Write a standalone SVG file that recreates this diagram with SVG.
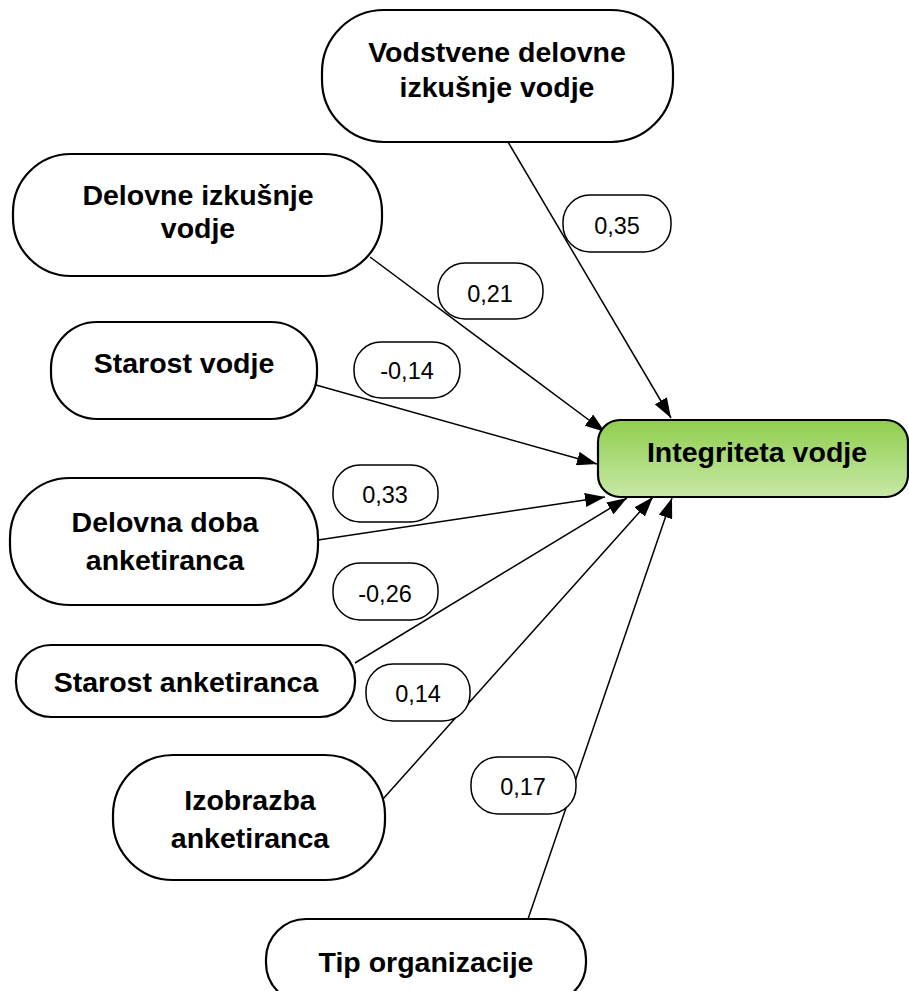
<svg xmlns="http://www.w3.org/2000/svg" width="909" height="991" viewBox="0 0 909 991">
  <style>
    .node { fill: #ffffff; stroke: #000000; stroke-width: 2.2; }
    .target { fill: url(#greenFill); stroke: #000000; stroke-width: 2.2; }
    .coef { fill: #ffffff; stroke: #000000; stroke-width: 1.5; }
    .edge { stroke: #000000; stroke-width: 1.5; fill: none; marker-end: url(#arrow); }
    .title { font-family: "Liberation Sans", Arial, sans-serif; font-weight: bold; font-size: 28.5px; fill: #000000; text-anchor: middle; }
    .num { font-family: "Liberation Sans", Arial, sans-serif; font-size: 23.5px; fill: #000000; text-anchor: middle; }
  </style>
  <defs>
    <linearGradient id="greenFill" x1="0" y1="0" x2="0" y2="1">
      <stop offset="0" stop-color="#8fce4c"/>
      <stop offset="1" stop-color="#c8e8a8"/>
    </linearGradient>
    <marker id="arrow" markerUnits="userSpaceOnUse" markerWidth="20" markerHeight="14" refX="20" refY="7" orient="auto">
      <path d="M0,0 L20,7 L0,14 z" fill="#000000"/>
    </marker>
  </defs>

  <rect width="909" height="991" fill="#ffffff"/>

  <!-- connectors -->
  <g id="connectors">
    <line class="edge" x1="508" y1="142" x2="671" y2="418"/>
    <line class="edge" x1="370" y1="257" x2="605" y2="432"/>
    <line class="edge" x1="316" y1="385" x2="597" y2="464"/>
    <line class="edge" x1="318" y1="540" x2="605" y2="497"/>
    <line class="edge" x1="355" y1="663" x2="627" y2="498"/>
    <line class="edge" x1="383" y1="799" x2="653" y2="497"/>
    <line class="edge" x1="528" y1="919" x2="672" y2="498"/>
  </g>

  <!-- coefficient labels -->
  <g id="coef-0-35">
    <rect class="coef" x="563" y="195" width="108" height="57" rx="27"/>
    <text class="num" x="617" y="234">0,35</text>
  </g>
  <g id="coef-0-21">
    <rect class="coef" x="438" y="263" width="105" height="56" rx="27"/>
    <text class="num" x="490" y="302">0,21</text>
  </g>
  <g id="coef-m0-14">
    <rect class="coef" x="354" y="342" width="106" height="56" rx="27"/>
    <text class="num" x="407" y="379">-0,14</text>
  </g>
  <g id="coef-0-33">
    <rect class="coef" x="333" y="465" width="105" height="57" rx="27"/>
    <text class="num" x="385" y="503">0,33</text>
  </g>
  <g id="coef-m0-26">
    <rect class="coef" x="333" y="563" width="105" height="57" rx="27"/>
    <text class="num" x="385" y="602">-0,26</text>
  </g>
  <g id="coef-0-14">
    <rect class="coef" x="366" y="664" width="104" height="57" rx="27"/>
    <text class="num" x="418" y="702">0,14</text>
  </g>
  <g id="coef-0-17">
    <rect class="coef" x="471" y="757" width="105" height="57" rx="27"/>
    <text class="num" x="523" y="795">0,17</text>
  </g>

  <!-- predictor nodes -->
  <g id="vodstvene-izkusnje">
    <rect class="node" x="322" y="10" width="351" height="132" rx="62"/>
    <text class="title" x="497" y="62">Vodstvene delovne</text>
    <text class="title" x="497" y="97">izkušnje vodje</text>
  </g>
  <g id="delovne-izkusnje">
    <rect class="node" x="13" y="154" width="369" height="122" rx="58"/>
    <text class="title" x="198" y="205">Delovne izkušnje</text>
    <text class="title" x="198" y="238">vodje</text>
  </g>
  <g id="starost-vodje">
    <rect class="node" x="51" y="322" width="266" height="97" rx="46"/>
    <text class="title" x="184" y="373">Starost vodje</text>
  </g>
  <g id="delovna-doba">
    <rect class="node" x="10" y="478" width="308" height="127" rx="60"/>
    <text class="title" x="165" y="532">Delovna doba</text>
    <text class="title" x="165" y="570">anketiranca</text>
  </g>
  <g id="starost-anketiranca">
    <rect class="node" x="16" y="645" width="339" height="72" rx="35"/>
    <text class="title" x="186" y="692">Starost anketiranca</text>
  </g>
  <g id="izobrazba">
    <rect class="node" x="113" y="755" width="272" height="125" rx="60"/>
    <text class="title" x="250" y="810">Izobrazba</text>
    <text class="title" x="250" y="848">anketiranca</text>
  </g>
  <g id="tip-organizacije">
    <rect class="node" x="266" y="919" width="320" height="84" rx="40"/>
    <text class="title" x="426" y="972">Tip organizacije</text>
  </g>

  <!-- outcome node -->
  <g id="integriteta-vodje">
    <rect class="target" x="598" y="420" width="310" height="77" rx="22"/>
    <text class="title" x="757" y="462">Integriteta vodje</text>
  </g>
</svg>
